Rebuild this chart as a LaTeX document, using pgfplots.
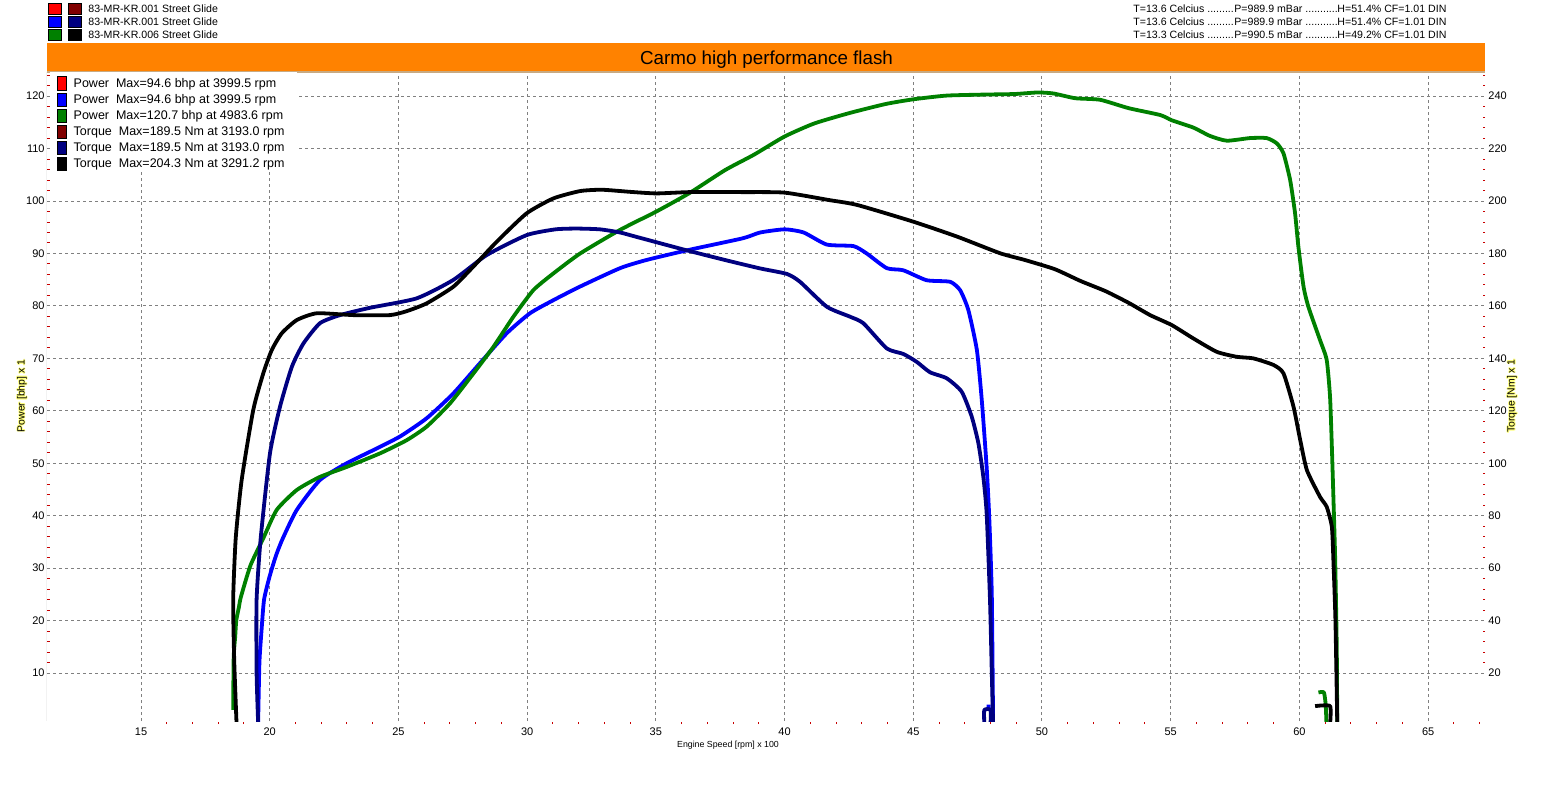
\documentclass[border=0pt]{standalone}
\usepackage{fontspec}
\setmainfont{Liberation Sans}
\usepackage{pgfplots}
\pgfplotsset{compat=1.18}
\definecolor{barorange}{RGB}{255,130,0}
\definecolor{bartan}{RGB}{200,170,130}
\definecolor{gridgray}{RGB}{128,128,128}
\definecolor{axisgray}{RGB}{150,150,150}
\definecolor{tickred}{RGB}{200,0,0}
\definecolor{cred}{RGB}{255,0,0}
\definecolor{cdarkred}{RGB}{128,0,0}
\definecolor{cblue}{RGB}{0,0,255}
\definecolor{cnavy}{RGB}{0,0,128}
\definecolor{cgreen}{RGB}{0,128,0}
\definecolor{halo}{RGB}{255,255,120}
\newcommand{\ticksize}{\fontsize{5.5}{6}\selectfont}
\begin{document}
\begin{tikzpicture}
\path[use as bounding box] (-23.5pt,-39.5pt) rectangle (751.5pt,360.5pt);
\begin{axis}[
  at={(0pt,0pt)}, anchor=south west,
  scale only axis, width=719pt, height=324.5pt,
  xmin=11.348, xmax=67.21, ymin=0.86, ymax=124.6,
  axis line style={draw=none},
  xtick pos=left, ytick pos=left,
  tick align=inside, major tick length=0pt, minor tick length=1.25pt,
  xtick={15,20,...,65}, ytick={10,20,...,120},
  minor xtick={16,17,18,19,21,22,23,24,26,27,28,29,31,32,33,34,36,37,38,39,41,42,43,44,46,47,48,49,51,52,53,54,56,57,58,59,61,62,63,64,66,67},
  minor ytick={12,14,16,18,22,24,26,28,32,34,36,38,42,44,46,48,52,54,56,58,62,64,66,68,72,74,76,78,82,84,86,88,92,94,96,98,102,104,106,108,112,114,116,118,122,124},
  minor tick style={tickred, line width=0.5pt},
  minor x tick style={yshift=-1.6pt},
  grid=major,
  major grid style={gridgray, line width=0.5pt, dash pattern=on 1.5pt off 1.5pt},
  tick label style={font=\ticksize},
  /pgf/number format/assume math mode=true,
  xticklabel style={anchor=north, inner sep=0pt, yshift=-3.3pt},
  yticklabel style={anchor=east, inner sep=0pt, xshift=-1pt},
  unbounded coords=jump,
  every axis plot/.append style={line width=1.9pt, line join=round, smooth, tension=0.35}
]
\draw[axisgray, line width=0.5pt] (rel axis cs:0,0) -- (rel axis cs:0,1);
% Power 83-MR-KR.001 (blue)
\addplot[cblue] coordinates {
(19.55,0.5) (19.60,12) (19.68,18) (19.78,24) (20.00,28.5) (20.25,32.5) (20.51,35.7)
(21.05,41.1) (21.95,46.8) (22.99,50.0) (24.02,52.5) (25.06,55.1) (26.10,58.6)
(27.13,63.3) (28.17,69.1) (29.21,74.8) (30.11,78.6) (31.02,81.1) (32.06,83.7)
(33.61,87.2) (34.63,88.75) (36.30,90.7) (38.38,92.9) (39.05,94.0) (40.00,94.6)
(40.74,94.0) (41.64,91.7) (42.68,91.4) (43.19,90.0) (43.97,87.2) (44.61,86.8)
(45.52,84.9) (46.43,84.6) (46.82,83.0) (47.14,79.2) (47.47,71.6) (47.66,62.1)
(47.85,49.3) (47.95,39.8) (48.05,25) (48.10,0.5)
(nan,nan)
(47.85,3.6) (48.00,3.6)
};
% Power 83-MR-KR.006 (green)
\addplot[cgreen] coordinates {
(18.58,3) (18.60,13) (18.66,17) (18.70,20) (18.80,22.5) (18.88,24.5) (19.25,30.5)
(19.75,35.7) (20.27,41.1) (21.05,44.9) (21.95,47.4) (22.99,49.3) (24.29,51.9)
(25.32,54.4) (26.10,57.0) (27.00,61.4) (27.91,67.1) (28.69,72.2) (29.46,77.9)
(30.24,83.0) (31.02,86.2) (32.06,90.0) (33.61,94.5) (35.02,98.0) (36.30,101.5)
(37.69,105.9) (38.80,108.8) (40.00,112.3) (41.16,114.8) (42.54,116.8) (43.93,118.5)
(45.01,119.4) (46.29,120.1) (47.80,120.3) (48.93,120.4) (49.84,120.7) (50.45,120.5)
(51.29,119.6) (52.26,119.3) (53.37,117.7) (54.59,116.4) (55.04,115.4) (55.88,114.0)
(56.53,112.4) (57.18,111.5) (58.08,112.0) (58.73,112.0) (59.12,111.0) (59.38,109.1)
(59.64,104.0) (59.83,97.7) (59.96,91.3) (60.16,83.7) (60.35,79.8) (60.80,73.5)
(61.06,69.7) (61.19,62.7) (61.26,53.2) (61.32,43.6) (61.39,31.6) (61.45,15) (61.47,0.5)
(nan,nan)
(60.74,6.3) (60.95,6.3) (61.02,4) (61.05,0.5)
};
\draw[bartan, line width=0.8pt] (rel axis cs:0,1) -- (rel axis cs:1,1);
\end{axis}
\begin{axis}[
  at={(0pt,0pt)}, anchor=south west,
  scale only axis, width=719pt, height=324.5pt,
  xmin=11.348, xmax=67.21, ymin=1.72, ymax=249.2,
  axis line style={draw=none},
  xtick=\empty,
  ytick pos=right, yticklabel pos=right,
  tick align=inside, major tick length=0pt, minor tick length=1.25pt,
  ytick={20,40,...,240},
  minor ytick={24,28,32,36,44,48,52,56,64,68,72,76,84,88,92,96,104,108,112,116,124,128,132,136,144,148,152,156,164,168,172,176,184,188,192,196,204,208,212,216,224,228,232,236,244,248},
  minor tick style={tickred, line width=0.5pt},
  tick label style={font=\ticksize},
  /pgf/number format/assume math mode=true,
  yticklabel style={anchor=west, inner sep=0pt, xshift=1.5pt},
  unbounded coords=jump,
  every axis plot/.append style={line width=1.9pt, line join=round, smooth, tension=0.35}
]
% Torque 83-MR-KR.001 (navy)
\addplot[cnavy] coordinates {
(19.55,1) (19.49,20) (19.49,48) (19.65,71.5) (20.01,103.8) (20.40,121.6) (20.86,136.8)
(21.31,145.7) (21.95,153.4) (22.73,156.5) (23.90,159.3) (25.71,162.9) (27.13,169.9)
(28.43,179.4) (29.98,187.0) (31.10,189.2) (31.93,189.5) (32.83,189.2) (33.61,188.0)
(34.22,186.4) (36.16,181.3) (37.69,177.5) (39.05,174.3) (40.09,172.2) (40.60,169.2)
(41.64,159.7) (42.54,155.9) (43.06,153.4) (43.97,143.8) (44.61,141.7) (45.13,138.7)
(45.65,134.7) (46.30,132.4) (46.88,127.3) (47.27,117.8) (47.53,107.6) (47.72,94.9)
(47.85,80.9) (47.98,48) (48.05,20) (48.10,1)
(nan,nan)
(47.76,0.5) (47.76,5.9) (48.00,5.9) (48.00,0.5)
};
% Torque 83-MR-KR.006 (black)
\addplot[black] coordinates {
(18.71,1) (18.62,25) (18.58,48) (18.68,71.5) (18.91,93.6) (19.36,120.3) (19.75,134.3)
(20.08,143.2) (20.47,149.6) (21.05,154.6) (21.83,157.2) (23.25,156.5) (24.67,156.5)
(25.32,158.0) (26.10,161.0) (27.13,167.3) (27.91,175.0) (28.82,184.5) (29.98,195.3)
(31.02,201.0) (32.06,203.8) (32.91,204.3) (34.00,203.5) (35.02,202.9) (36.30,203.4)
(38.38,203.4) (40.00,203.2) (41.71,200.4) (42.82,198.5) (45.01,192.1) (46.71,186.4)
(48.37,180.1) (49.34,177.5) (50.50,174.0) (51.50,169.5) (52.50,165.5) (53.40,161.0)
(54.20,156.5) (55.04,152.7) (55.88,147.6) (56.79,142.5) (57.57,140.6) (58.21,140.0)
(58.99,137.5) (59.38,134.3) (59.77,121.6) (60.03,108.9) (60.29,97.4) (60.80,87.2)
(61.06,83.4) (61.26,75.8) (61.32,63.1) (61.40,40) (61.47,1)
(nan,nan)
(60.61,7.4) (61.19,7.4) (61.19,0.5)
};
\end{axis}
% title bar
\fill[barorange] (0pt,325.2pt) rectangle (719pt,339pt);
\node[anchor=base, inner sep=0pt, font=\fontsize{9.4}{11}\selectfont] at (359.75pt,328.4pt) {Carmo high performance flash};
% white legend background inside the plot
\fill[white] (1.5pt,275.5pt) rectangle (125pt,324.3pt);
% top-left file legend
\begin{scope}[every node/.style={inner sep=0pt}]
\foreach \y/\ca/\cb/\t in {356.2/cred/cdarkred/83-MR-KR.001 Street Glide, 349.7/cblue/cnavy/83-MR-KR.001 Street Glide, 343.0/cgreen/black/83-MR-KR.006 Street Glide}{
  \filldraw[fill=\ca, draw=black, line width=0.4pt] (0.5pt,\y pt-2.75pt) rectangle (7.2pt,\y pt+2.75pt);
  \filldraw[fill=\cb, draw=black, line width=0.4pt] (10.5pt,\y pt-2.75pt) rectangle (17.2pt,\y pt+2.75pt);
  \node[anchor=base west, font=\fontsize{5.3}{6}\selectfont] at (20.5pt,\y pt-1.9pt) {\t};
}
% top-right conditions
\foreach \y/\T/\P/\H in {356.2/13.6/989.9/51.4, 349.7/13.6/989.9/51.4, 343.0/13.3/990.5/49.2}{
  \node[anchor=base west, font=\fontsize{5.3}{6}\selectfont] at (543pt,\y pt-1.9pt) {T=\T\ Celcius .........};
  \node[anchor=base west, font=\fontsize{5.3}{6}\selectfont] at (593.5pt,\y pt-1.9pt) {P=\P\ mBar ...........};
  \node[anchor=base west, font=\fontsize{5.3}{6}\selectfont] at (645pt,\y pt-1.9pt) {H=\H\% CF=1.01 DIN};
}
% in-plot legend
\foreach \y/\c/\t in {318.85/cred/{Power\ \ Max=94.6 bhp at 3999.5 rpm}, 310.85/cblue/{Power\ \ Max=94.6 bhp at 3999.5 rpm}, 302.85/cgreen/{Power\ \ Max=120.7 bhp at 4983.6 rpm}, 294.85/cdarkred/{Torque\ \ Max=189.5 Nm at 3193.0 rpm}, 286.85/cnavy/{Torque\ \ Max=189.5 Nm at 3193.0 rpm}, 278.85/black/{Torque\ \ Max=204.3 Nm at 3291.2 rpm}}{
  \filldraw[fill=\c, draw=black, line width=0.3pt] (5.15pt,\y pt-3.25pt) rectangle (9.85pt,\y pt+3.25pt);
  \node[anchor=base west, font=\fontsize{6.25}{7}\selectfont] at (13.15pt,\y pt-2.25pt) {\t};
}
% axis labels with yellow halo
\foreach \dx/\dy in {-0.4/0,0.4/0,0/-0.4,0/0.4,-0.28/-0.28,0.28/0.28,-0.28/0.28,0.28/-0.28}{
  \node[rotate=90, text=halo, font=\fontsize{5.2}{6}\selectfont] at (-12.5pt+\dx pt,162.5pt+\dy pt) {Power [bhp] x 1};
  \node[rotate=90, text=halo, font=\fontsize{5.2}{6}\selectfont] at (732.5pt+\dx pt,162.5pt+\dy pt) {Torque [Nm] x 1};
}
\node[rotate=90, font=\fontsize{5.2}{6}\selectfont] at (-12.5pt,162.5pt) {Power [bhp] x 1};
\node[rotate=90, font=\fontsize{5.2}{6}\selectfont] at (732.5pt,162.5pt) {Torque [Nm] x 1};
\node[font=\fontsize{4.4}{6}\selectfont] at (340.5pt,-12pt) {Engine Speed [rpm] x 100};
\end{scope}
\end{tikzpicture}
\end{document}
